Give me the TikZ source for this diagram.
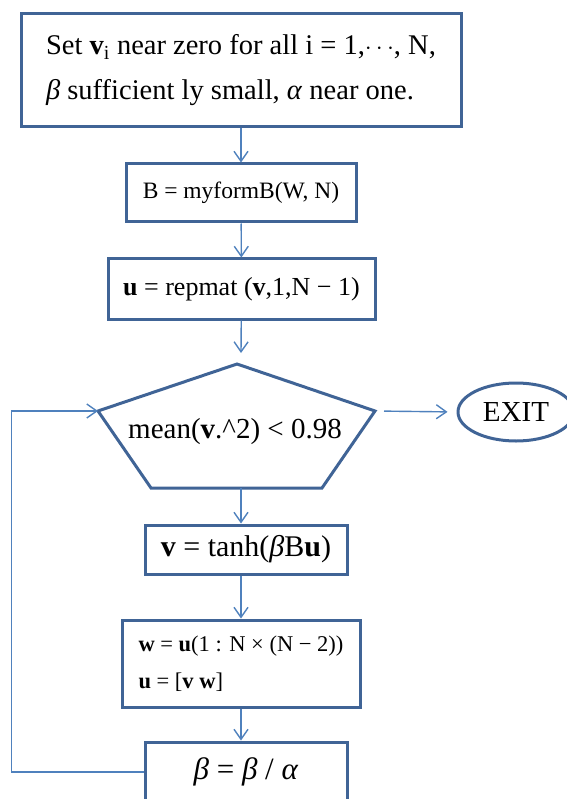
\documentclass[tikz,border=0pt]{standalone}
\usepackage{fontspec}
\setmainfont{Liberation Serif}
\usetikzlibrary{arrows.meta,positioning,shapes.geometric}
\definecolor{boxblue}{RGB}{64,100,150}
\definecolor{lineblue}{RGB}{79,129,189}
\tikzset{%
	process/.style  = {draw=boxblue, line width=3pt, rectangle, text centered},
	terminal/.style = {draw=boxblue, line width=3pt, ellipse, minimum width=116pt, minimum height=58pt},
	decision/.style = {draw=boxblue, line width=3pt, line join=miter},
	arrow/.style    = {draw=lineblue, line width=1.4pt, -{Straight Barb[length=10pt,width=14pt]}},
}

\begin{document}
\begin{tikzpicture}[x=1pt,y=-1pt]
	\useasboundingbox (0,0) rectangle (566,799);
	\node[process, minimum width=440pt, minimum height=113pt, align=left, font=\fontsize{28.5}{45}\selectfont] (init) at (241,70)
		{Set \textbf{v}\textsubscript{i} near zero for all i = 1,$\cdots$, N,\\ \textit{β} sufficient ly small, \textit{α} near one.};
	\node[process, minimum width=230pt, minimum height=58pt, font=\fontsize{23.5}{25}\selectfont] (formB) at (241,193) {B = myformB(W, N)};
	\node[process, minimum width=267pt, minimum height=60pt, font=\fontsize{26}{28}\selectfont] (repmat) at (241.5,289) {\textbf{u} = repmat (\textbf{v},1,N − 1)};
	% pentagon
	\coordinate (condtop) at (237,364);
	\coordinate (condin) at (241,353);
	\coordinate (condleft) at (98,411);
	\coordinate (condright) at (375,411);
	\coordinate (condbot) at (241,488);
	\draw[decision] (condtop) -- (condright) -- (322,488) -- (151,488) -- (condleft) -- cycle;
	\node[font=\fontsize{29}{30}\selectfont] (cond) at (235,432) {mean(\textbf{v}.\textasciicircum2) < 0.98};
	\node[terminal, font=\fontsize{29}{30}\selectfont] (exit) at (516,412) {EXIT};
	\node[process, minimum width=202pt, minimum height=49pt, font=\fontsize{30}{30}\selectfont] (tanh) at (246,549.5) {\textbf{v} = tanh(\textit{β}B\textbf{u})};
	\node[process, minimum width=238pt, minimum height=87pt, align=left, font=\fontsize{22.5}{37}\selectfont] (shift) at (241,663.5)
		{\textbf{w} = \textbf{u}(1 : N × (N − 2))\\ \textbf{u} = [\textbf{v} \textbf{w}]};
	\node[process, minimum width=202pt, minimum height=60pt, font=\fontsize{31}{32}\selectfont] (update) at (246,772) {\textit{β} = \textit{β} / \textit{α}};
	% connectors
	\draw[arrow] (init) -- (formB);
	\draw[arrow] (formB) -- (repmat);
	\draw[arrow] (repmat) -- (condin);
	\draw[arrow, shorten <=9pt, shorten >=9pt] (condright) -- (exit.west);
	\draw[arrow] (condbot) -- (condbot |- tanh.north);
	\draw[arrow] (condbot |- tanh.south) -- (shift);
	\draw[arrow] (shift) -- (shift |- update.north);
	\draw[arrow] (update.west) -- ++(-132,0) |- (condleft);
\end{tikzpicture}
\end{document}
